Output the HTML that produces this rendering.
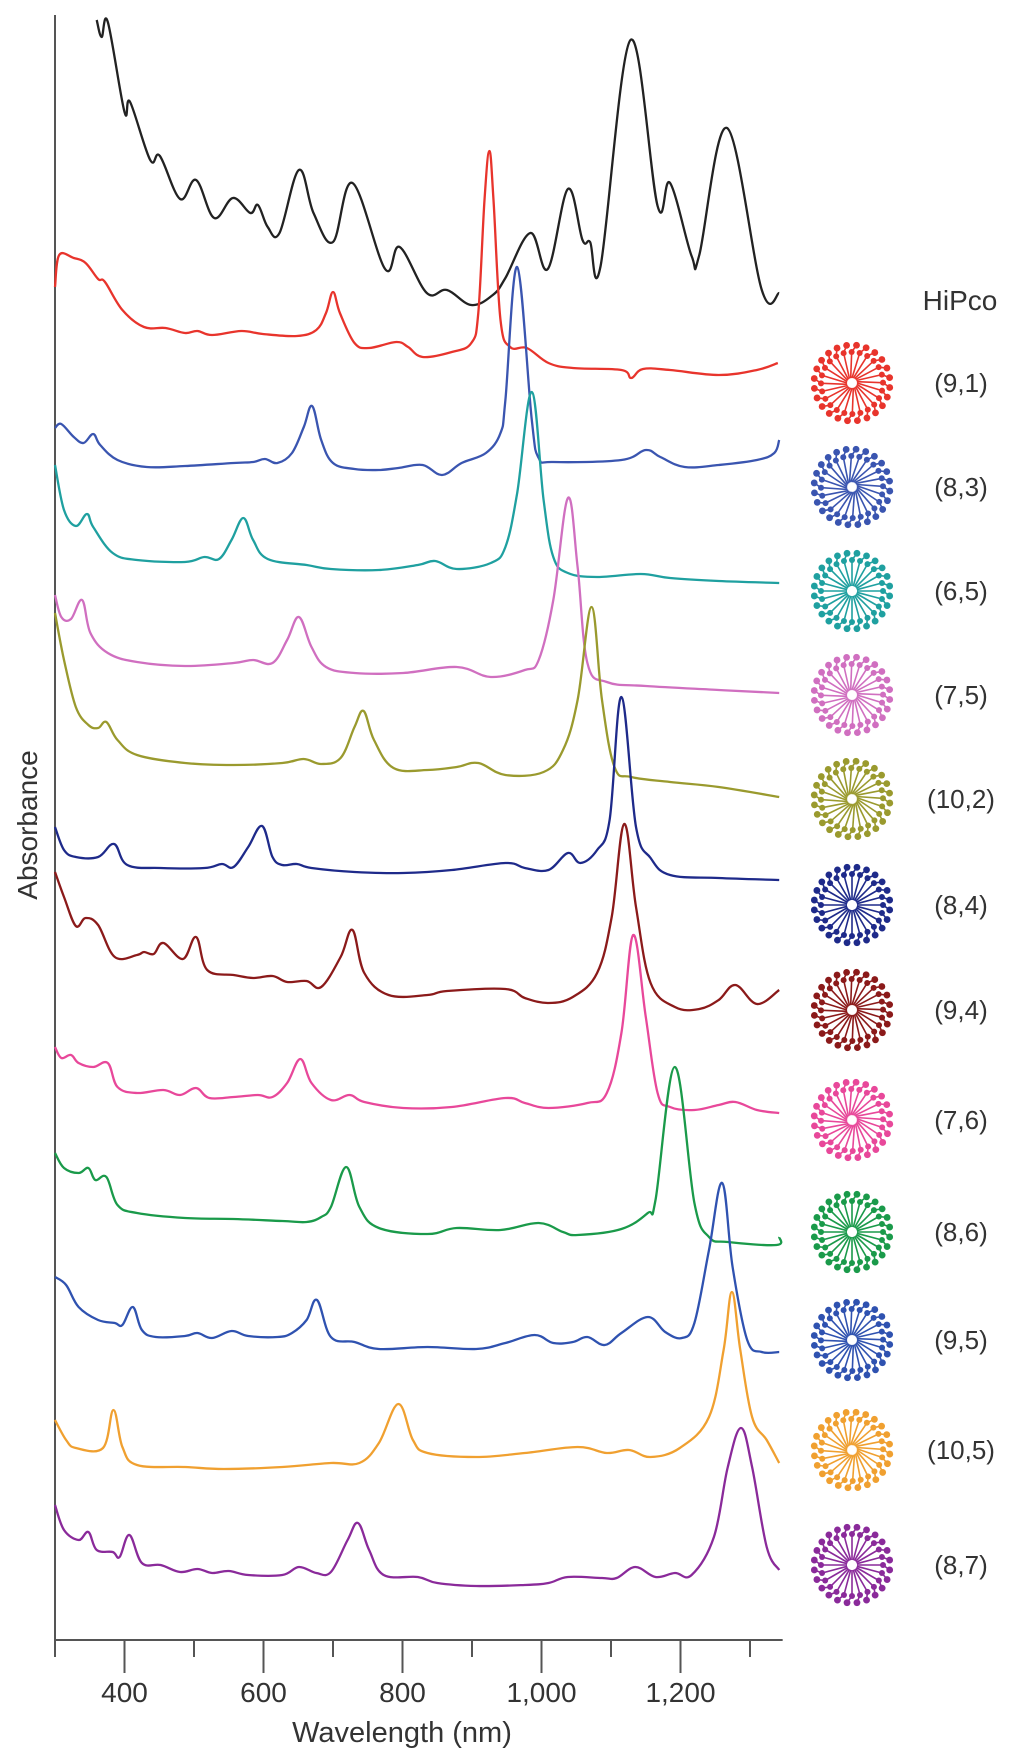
<!DOCTYPE html>
<html><head><meta charset="utf-8"><title>SWCNT absorbance spectra</title>
<style>
html,body{margin:0;padding:0;background:#fff;}
svg{display:block;font-family:"Liberation Sans",sans-serif;}
</style></head>
<body>
<svg id="chart" width="1024" height="1759" viewBox="0 0 1024 1759" xmlns="http://www.w3.org/2000/svg">
  <g id="axes"></g>
  <g id="traces"></g>
  <g id="legend">
    <text x="960" y="310" font-size="28" text-anchor="middle" fill="#333">HiPco</text>
  </g>
  <text x="402" y="1742" font-size="29" text-anchor="middle" fill="#333">Wavelength (nm)</text>
  <text x="0" y="0" font-size="28" text-anchor="middle" fill="#333" transform="translate(37,825) rotate(-90)">Absorbance</text>
</svg>
<script>
const xTicks = [300,400,500,600,700,800,900,1000,1100,1200,1300];
const xTickLabels = {400:"400",600:"600",800:"800",1000:"1,000",1200:"1,200"};
const seriesNames = ["HiPco","(9,1)","(8,3)","(6,5)","(7,5)","(10,2)","(8,4)","(9,4)","(7,6)","(8,6)","(9,5)","(10,5)","(8,7)"];
const seriesColors = ["#222222","#e8342c","#3a55b0","#1fa0a0","#d06fc0","#9a9a2e","#1e2a8a","#8b1a1a","#e8489a","#1a9a4a","#2f52b0","#f0a030","#8a2a9a"];

const nmHiPco = [360,367,376,400,408,437,451,480,503,529,556,581,592,606,623,651,672,700,728,775,796,835,864,899,930,948,984,1009,1038,1059,1070,1085,1128,1167,1185,1216,1227,1267,1317,1342];
const absHiPco = [1620,1603,1618,1528,1538,1480,1484,1441,1460,1422,1442,1427,1435,1413,1407,1470,1427,1398,1457,1371,1393,1347,1350,1335,1345,1362,1407,1371,1451,1400,1398,1374,1600,1434,1457,1384,1385,1512,1350,1347];

const nm91 = [300,306,327,344,362,372,397,428,459,487,505,526,568,599,648,676,690,700,710,731,752,791,808,829,871,899,909,918,925,931,941,955,979,1010,1045,1115,1129,1146,1185,1255,1310,1340];
const abs91 = [1353,1385,1382,1377,1361,1358,1330,1313,1312,1307,1309,1305,1309,1306,1304,1310,1327,1348,1327,1297,1292,1298,1293,1283,1288,1297,1327,1440,1489,1440,1320,1293,1292,1277,1272,1270,1262,1271,1270,1265,1270,1277];

const nm83 = [300,309,327,341,355,365,390,432,487,557,585,602,620,641,658,670,683,700,731,766,794,829,857,885,920,941,948,965,986,996,1017,1115,1150,1171,1206,1255,1310,1335,1342];
const abs83 = [1212,1216,1203,1197,1206,1195,1180,1173,1174,1177,1178,1181,1177,1187,1213,1234,1200,1177,1171,1170,1172,1175,1165,1177,1187,1207,1240,1373,1220,1182,1178,1180,1190,1183,1173,1175,1180,1187,1200];

const nm65 = [300,313,330,346,355,383,418,487,515,536,554,571,585,606,662,697,766,822,847,878,927,948,965,986,1003,1017,1038,1080,1143,1185,1255,1342];
const abs65 = [1175,1130,1114,1126,1113,1087,1080,1078,1083,1081,1100,1122,1100,1081,1075,1071,1070,1075,1079,1071,1077,1093,1147,1248,1140,1083,1067,1063,1066,1062,1059,1057];

const nm75 = [300,309,323,339,351,376,418,487,557,585,613,634,651,669,690,731,801,878,927,976,996,1017,1038,1052,1066,1094,1150,1255,1342];
const abs75 = [1045,1023,1021,1040,1007,987,978,974,977,980,977,1000,1023,993,973,967,967,973,963,970,980,1040,1142,1073,977,958,954,950,947];

const nm102 = [300,313,330,348,362,374,390,418,487,557,627,658,683,711,731,744,759,787,836,878,909,948,1003,1031,1052,1072,1087,1105,1129,1185,1255,1342];
const abs102 = [1027,980,933,915,912,918,900,885,877,875,877,881,876,882,913,929,900,872,870,873,877,865,868,890,940,1033,940,873,863,858,853,843];

const nm84 = [300,313,330,362,385,404,452,515,540,557,578,598,613,627,648,669,731,801,871,948,976,1010,1038,1056,1080,1098,1115,1136,1157,1185,1255,1342];
const abs84 = [813,790,783,783,796,775,772,772,776,773,793,814,783,775,776,772,768,767,770,777,772,770,787,777,790,820,943,813,782,765,762,760];

const nm94 = [300,313,330,344,362,386,418,428,442,456,484,503,519,557,585,613,634,662,683,711,728,745,780,836,864,948,976,1010,1045,1080,1101,1119,1136,1157,1192,1227,1255,1279,1310,1342];
const abs94 = [768,743,714,722,715,683,685,688,686,697,681,703,670,665,662,664,658,659,653,683,710,667,645,645,649,651,642,637,643,667,723,816,733,657,633,631,640,655,636,650];

const nm76 = [300,309,323,334,355,376,390,418,456,480,503,522,557,592,613,634,653,669,697,724,745,801,871,948,976,1010,1066,1094,1115,1132,1150,1167,1185,1220,1255,1279,1310,1342];
const abs76 = [593,582,585,577,573,577,553,547,550,545,552,542,543,545,543,557,581,557,540,545,538,532,533,542,537,532,537,547,607,705,623,547,533,530,535,538,530,527];

const nm86 = [300,313,334,348,358,374,390,418,487,557,627,662,683,697,719,738,766,836,878,941,996,1031,1052,1115,1153,1164,1192,1220,1241,1268,1338,1342];
const abs86 = [487,472,467,472,460,463,435,427,422,421,419,418,423,433,473,433,412,406,412,410,417,408,405,411,427,440,573,437,403,398,395,403];

const nm95 = [300,316,334,362,386,397,412,425,445,487,505,526,554,578,620,641,662,677,697,731,766,836,906,948,990,1017,1045,1066,1091,1115,1153,1178,1202,1220,1241,1260,1275,1296,1317,1342];
const abs95 = [363,355,333,320,317,315,333,310,303,304,307,302,309,304,303,307,320,340,303,298,291,293,291,297,305,297,298,303,295,307,323,308,302,317,390,457,373,300,288,288];

const nm105 = [300,316,330,369,384,397,418,487,543,627,697,738,766,794,815,836,906,976,1052,1094,1126,1157,1199,1241,1262,1274,1286,1303,1324,1342];
const abs105 = [220,200,192,192,230,193,175,173,171,173,177,177,197,236,200,187,183,187,193,187,190,183,192,223,290,348,290,223,200,177];

const nm87 = [300,313,334,348,360,383,393,407,425,452,480,505,526,550,578,627,651,676,697,721,736,752,773,822,850,906,976,1010,1038,1087,1108,1135,1164,1192,1216,1248,1268,1287,1303,1324,1342];
const abs87 = [135,110,100,108,90,88,83,105,77,75,68,71,67,69,65,65,73,67,68,100,117,90,65,63,57,54,55,57,63,62,62,73,63,67,65,103,173,212,173,93,70];

const seriesNm = [nmHiPco,nm91,nm83,nm65,nm75,nm102,nm84,nm94,nm76,nm86,nm95,nm105,nm87];
const seriesAbs = [absHiPco,abs91,abs83,abs65,abs75,abs102,abs84,abs94,abs76,abs86,abs95,abs105,abs87];
const legendY = [383,487,591,695,799,905,1010,1120,1232,1340,1450,1565];

// axis functions
const X0 = 55, PXNM = 0.695, NM0 = 300, NM1 = 1347;
function xScale(nm){ return X0 + (nm - NM0) * PXNM; }
const AXIS_Y = 1640, TOP_Y = 15;
function yScale(a){ return AXIS_Y - a * (AXIS_Y - TOP_Y) / 1625; }

const NS = "http://www.w3.org/2000/svg";
function mk(tag, attrs, parent){
  const e = document.createElementNS(NS, tag);
  for (const k in attrs) e.setAttribute(k, attrs[k]);
  parent.appendChild(e);
  return e;
}

// axes
const axes = document.getElementById('axes');
const yAxis = mk('line', {x1:X0, y1:TOP_Y, x2:X0, y2:AXIS_Y, stroke:'#555', 'stroke-width':2}, axes);


const xAxis = mk('line', {x1:X0, y1:AXIS_Y, x2:xScale(NM1), y2:AXIS_Y, stroke:'#555', 'stroke-width':2}, axes);


xTicks.forEach(function(t){
  const major = t % 200 === 0;
  const len = t === 300 ? 17 : (major ? 33 : 17);
  const tk = mk('line', {x1:xScale(t), y1:AXIS_Y, x2:xScale(t), y2:AXIS_Y + len, stroke:'#555', 'stroke-width':2}, axes);
  
  
  if (xTickLabels[t]) {
    const lb = mk('text', {x:xScale(t), y:1702, 'font-size':28, 'text-anchor':'middle', fill:'#333'}, axes);
    lb.textContent = xTickLabels[t];
    
    
  }
});

// smooth path (Catmull-Rom)
function pathFor(nms, abss){
  const n = Math.min(nms.length, abss.length);
  const p = [];
  for (let i = 0; i < n; i++) p.push([xScale(nms[i]), yScale(abss[i])]);
  let d = 'M' + p[0][0].toFixed(1) + ' ' + p[0][1].toFixed(1);
  for (let i = 0; i < n - 1; i++) {
    const p0 = p[Math.max(i-1,0)], p1 = p[i], p2 = p[i+1], p3 = p[Math.min(i+2,n-1)];
    const t = 0.18;
    const c1 = [p1[0] + (p2[0]-p0[0])*t, p1[1] + (p2[1]-p0[1])*t];
    const c2 = [p2[0] - (p3[0]-p1[0])*t, p2[1] - (p3[1]-p1[1])*t];
    d += ' C' + c1[0].toFixed(1) + ' ' + c1[1].toFixed(1) + ' ' + c2[0].toFixed(1) + ' ' + c2[1].toFixed(1) + ' ' + p2[0].toFixed(1) + ' ' + p2[1].toFixed(1);
  }
  return d;
}

const traces = document.getElementById('traces');
seriesNm.forEach(function(nms, i){
  const path = mk('path', {d:pathFor(nms, seriesAbs[i]), fill:'none', stroke:seriesColors[i], 'stroke-width':2.3, 'stroke-linejoin':'round'}, traces);
  
  
});

// legend: nanotube end-view icons + labels
const legend = document.getElementById('legend');
for (let i = 1; i < seriesNames.length; i++) {
  const cy = legendY[i-1], cx = 852, col = seriesColors[i];
  const g = mk('g', {}, legend);
  
  
  const icon = mk('g', {}, g);
  
  
  const spokes = 24, twist = (i % 3) * 0.25;
  for (let k = 0; k < spokes; k++) {
    const a = k * 2 * Math.PI / spokes;
    const a2 = a + twist;
    mk('line', {x1:cx + 5*Math.cos(a), y1:cy + 5*Math.sin(a), x2:cx + 30*Math.cos(a2), y2:cy + 30*Math.sin(a2), stroke:col, 'stroke-width':1.6}, icon);
    mk('circle', {cx:cx + 31*Math.cos(a2), cy:cy + 31*Math.sin(a2), r:3, fill:col}, icon);
    const a3 = a2 + Math.PI / spokes;
    mk('circle', {cx:cx + 38*Math.cos(a3), cy:cy + 38*Math.sin(a3), r:3.4, fill:col}, icon);
    mk('line', {x1:cx + 31*Math.cos(a2), y1:cy + 31*Math.sin(a2), x2:cx + 38*Math.cos(a3), y2:cy + 38*Math.sin(a3), stroke:col, 'stroke-width':1.6}, icon);
  }
  mk('circle', {cx:cx, cy:cy, r:4, fill:'#fff'}, icon);
  const t = mk('text', {x:961, y:cy + 9, 'font-size':26, 'text-anchor':'middle', fill:'#333'}, g);
  t.textContent = seriesNames[i];
  
  
}
</script>
</body></html>
